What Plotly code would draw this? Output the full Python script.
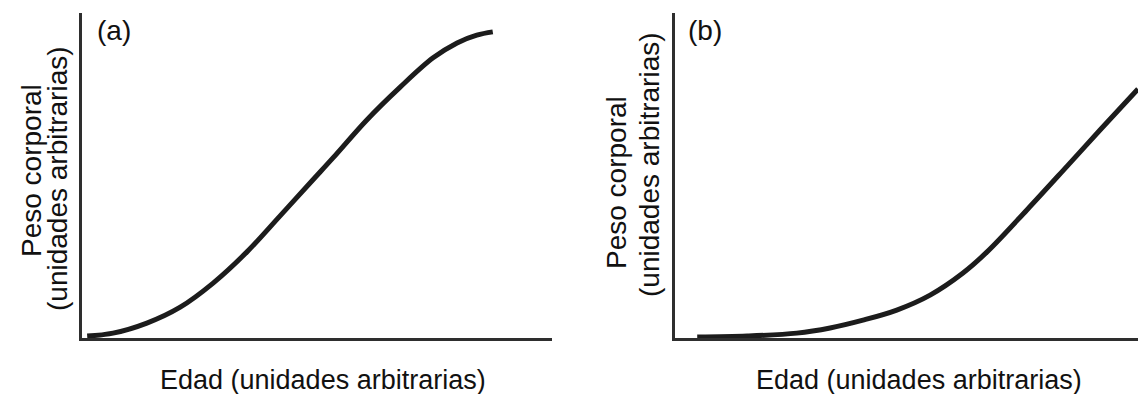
import plotly.graph_objects as go

# Panel (a): sigmoid growth, body weight vs age (arbitrary units)
edad_a = [1.1, 6.6, 13.8, 20.9, 27.9, 35.1, 42.1, 49.1, 53.4, 60.6, 67.7, 74.7, 79.8, 84.0, 87.4]
peso_a = [0.6, 1.5, 4.6, 9.5, 16.9, 26.5, 37.5, 48.6, 55.4, 67.1, 77.2, 86.2, 90.8, 93.2, 94.2]

# Panel (b): slow start then steady linear growth
edad_b = [4.8, 15.6, 26.3, 33.5, 40.6, 47.9, 55.1, 62.2, 67.4, 76.0, 84.7, 91.8, 100.0]
peso_b = [0.3, 0.6, 1.5, 3.1, 5.5, 8.6, 13.2, 20.0, 26.5, 39.4, 52.9, 64.0, 76.6]

panel_labels = ["(a)", "(b)"]
x_title = "Edad (unidades arbitrarias)"
y_title_lines = ["Peso corporal", "(unidades arbitrarias)"]

W, H = 1138, 394
FONT = "Liberation Sans, Arial, sans-serif"
INK = "#111111"
AXIS = "#2e2e2e"
CURVE = "#1c1c1c"

fig = go.Figure()
fig.add_trace(go.Scatter(x=edad_a, y=peso_a, mode="lines", xaxis="x", yaxis="y",
                         line=dict(color=CURVE, width=5, shape="spline", smoothing=1.0),
                         hoverinfo="skip", showlegend=False))
fig.add_trace(go.Scatter(x=edad_b, y=peso_b, mode="lines", xaxis="x2", yaxis="y2",
                         line=dict(color=CURVE, width=5, shape="spline", smoothing=1.0),
                         hoverinfo="skip", showlegend=False))

def px_x(p):
    return p / W

def px_y(p):
    return (H - p) / H

axis_common = dict(showgrid=False, zeroline=False, showticklabels=False, ticks="",
                   showline=True, linecolor=AXIS, linewidth=2.5, range=[0, 100], fixedrange=True)

fig.update_layout(
    width=W, height=H,
    margin=dict(l=0, r=0, t=0, b=0),
    paper_bgcolor="white", plot_bgcolor="white",
    xaxis=dict(domain=[px_x(82), px_x(552)], anchor="y", **axis_common),
    yaxis=dict(domain=[px_y(338), px_y(13)], anchor="x", **axis_common),
    xaxis2=dict(domain=[px_x(675), 1.0], anchor="y2", **axis_common),
    yaxis2=dict(domain=[px_y(338), px_y(13)], anchor="x2", **axis_common),
)

annotations = []
# panel letters
for label, cx in zip(panel_labels, [114, 705]):
    annotations.append(dict(text=label, x=px_x(cx), y=px_y(31), xref="paper", yref="paper",
                            xanchor="center", yanchor="middle", showarrow=False,
                            font=dict(family=FONT, size=28, color=INK)))
# x-axis titles
for cx in [323, 919]:
    annotations.append(dict(text=x_title, x=px_x(cx), y=px_y(380), xref="paper", yref="paper",
                            xanchor="center", yanchor="middle", showarrow=False,
                            font=dict(family=FONT, size=27, color=INK)))
# y-axis titles, one annotation per line
y_line_pos = [[(31, 171), (57, 179)], [(616, 183), (649, 165)]]
for pos in y_line_pos:
    for text, (cx, cy) in zip(y_title_lines, pos):
        annotations.append(dict(text=text, x=px_x(cx), y=px_y(cy), xref="paper", yref="paper",
                                xanchor="center", yanchor="middle", textangle=-90, showarrow=False,
                                font=dict(family=FONT, size=28, color=INK)))

fig.update_layout(annotations=annotations)
fig.write_html("out.html")
